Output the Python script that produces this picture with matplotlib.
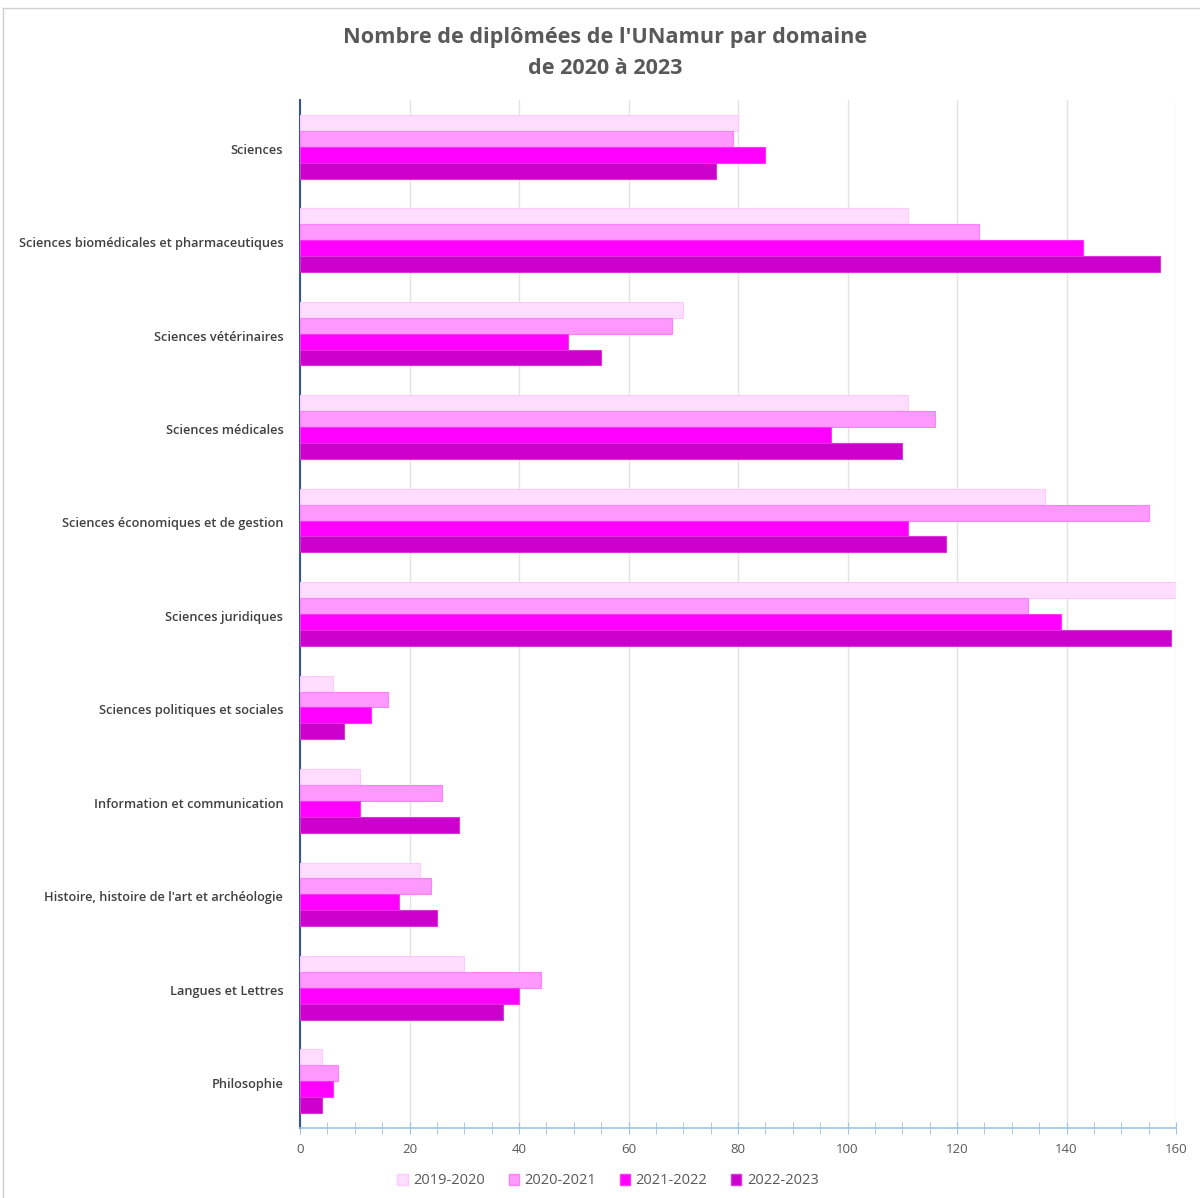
"""Nombre de diplômées de l'UNamur par domaine, 2020-2023."""

import matplotlib

matplotlib.use("Agg")

import matplotlib.pyplot as plt
import numpy as np
from matplotlib.lines import Line2D
from matplotlib.patches import Patch

plt.rcParams["font.family"] = ["Open Sans", "DejaVu Sans"]

DOMAINS = [
    "Sciences",
    "Sciences biomédicales et pharmaceutiques",
    "Sciences vétérinaires",
    "Sciences médicales",
    "Sciences économiques et de gestion",
    "Sciences juridiques",
    "Sciences politiques et sociales",
    "Information et communication",
    "Histoire, histoire de l'art et archéologie",
    "Langues et Lettres",
    "Philosophie",
]
YEARS = ["2019-2020", "2020-2021", "2021-2022", "2022-2023"]
V_2019_2020 = [80, 111, 70, 111, 136, 160, 6, 11, 22, 30, 4]
V_2020_2021 = [79, 124, 68, 116, 155, 133, 16, 26, 24, 44, 7]
V_2021_2022 = [85, 143, 49, 97, 111, 139, 13, 11, 18, 40, 6]
V_2022_2023 = [76, 157, 55, 110, 118, 159, 8, 29, 25, 37, 4]
SERIES = [V_2019_2020, V_2020_2021, V_2021_2022, V_2022_2023]

COLORS = ["#FFDDFF", "#FF99FF", "#FF00FF", "#CC00CC"]
EDGES = ["#FFC8FF", "#FF80FF", "#FF33FF", "#DD33DD"]
TEXT_GRAY = "#595959"


def main() -> None:
    fig = plt.figure(figsize=(12, 11.98), dpi=100)
    ax = fig.add_axes([300 / 1200, 1 - 1128 / 1198, 876 / 1200, 1028 / 1198])

    y = np.arange(len(DOMAINS))
    bar_h = 0.17
    for i, (values, color, edge) in enumerate(zip(SERIES, COLORS, EDGES)):
        offset = (i - 1.5) * bar_h
        ax.barh(
            y + offset,
            values,
            height=bar_h,
            color=color,
            edgecolor=edge,
            linewidth=0.8,
            label=YEARS[i],
            zorder=3,
        )

    ax.set_xlim(0, 160)
    ax.set_ylim(len(DOMAINS) - 0.5, -0.5)
    ax.set_xticks(np.arange(0, 161, 20))
    ax.set_xticks(np.arange(0, 161, 5), minor=True)
    ax.set_yticks(y + 0.02)
    ax.set_yticklabels(DOMAINS, fontsize=9.2, fontweight="semibold", color="#404040")
    ax.tick_params(axis="y", length=0, pad=12)
    ax.tick_params(axis="x", which="major", direction="inout", length=8,
                   color="#9DC3E6", labelsize=9.5, labelcolor=TEXT_GRAY, pad=7)
    ax.tick_params(axis="x", which="minor", direction="inout", length=8,
                   color="#9DC3E6")
    ax.grid(axis="x", which="major", color="#E3E3E3", linewidth=1, zorder=0)

    for side in ["top", "right"]:
        ax.spines[side].set_visible(False)
    ax.spines["bottom"].set_color("#9DC3E6")
    ax.spines["bottom"].set_linewidth(1.2)
    ax.spines["left"].set_color("#3A5590")
    ax.spines["left"].set_linewidth(1.5)

    fig.text(605 / 1200, 1 - 38 / 1198, "Nombre de diplômées de l'UNamur par domaine",
             ha="center", va="center", fontsize=15.6, fontweight="bold",
             color=TEXT_GRAY)
    fig.text(605 / 1200, 1 - 69 / 1198, "de 2020 à 2023",
             ha="center", va="center", fontsize=15.6, fontweight="bold",
             color=TEXT_GRAY)

    handles = [Patch(facecolor=c, edgecolor=e) for c, e in zip(COLORS, EDGES)]
    fig.legend(
        handles,
        YEARS,
        loc="center",
        bbox_to_anchor=(608 / 1200, 1 - 1181 / 1198),
        ncol=4,
        frameon=False,
        fontsize=10.5,
        labelcolor=TEXT_GRAY,
        handlelength=0.7,
        handleheight=0.7,
        handletextpad=0.4,
        columnspacing=1.6,
    )

    # sheet border
    fig.add_artist(Line2D([3 / 1200, 1], [1 - 8 / 1198, 1 - 8 / 1198],
                          transform=fig.transFigure, color="#D0D0D0", linewidth=1))
    fig.add_artist(Line2D([3 / 1200, 3 / 1200], [0, 1 - 8 / 1198],
                          transform=fig.transFigure, color="#D0D0D0", linewidth=1))

    fig.savefig("out.png")
    plt.close(fig)


if __name__ == "__main__":
    main()
